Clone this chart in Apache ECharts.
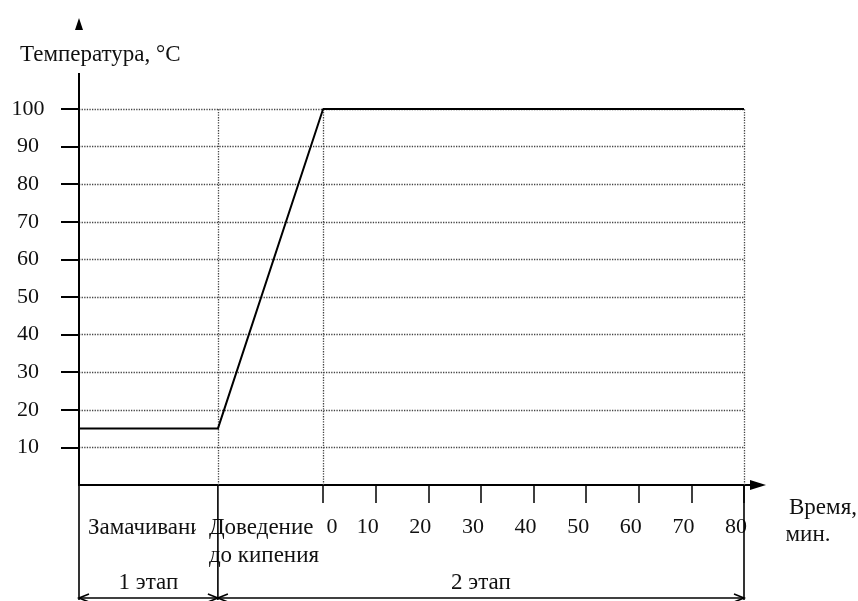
<!DOCTYPE html>
<html><head><meta charset="utf-8">
<script src="https://cdn.jsdelivr.net/npm/echarts@6/dist/echarts.min.js"></script>
<style>html,body{margin:0;padding:0;background:#fff}#c{width:858px;height:601px}</style>
</head><body><div id="c"></div>
<script>
// ---- data ----
const yTicks = [10, 20, 30, 40, 50, 60, 70, 80, 90, 100];
const xTicks = [0, 10, 20, 30, 40, 50, 60, 70, 80];
const timeX = [-46.4, -20, 0, 80];      // stage boundaries on the time axis
const tempY = [15, 15, 100, 100];       // temperature, °C
const phaseMarks = [-20, 0, 80];        // vertical dotted lines
const phaseLabels = ['Замачивание', 'Доведение', 'до кипения'];
const stageLabels = ['1 этап', '2 этап'];
const yTitle = 'Температура, °C';
const xTitle = ['Время,', 'мин.'];

const FONT = "'Liberation Serif', 'Times New Roman', serif";
const NUM = 22, TXT = 23;
const chart = echarts.init(document.getElementById('c'), null, {renderer: 'canvas'});

chart.setOption({
  animation: false,
  backgroundColor: '#fff',
  grid: {left: 79, right: 114, top: 109, bottom: 116, containLabel: false, outerBoundsMode: 'none'},
  xAxis: {
    type: 'value', min: timeX[0], max: xTicks[xTicks.length - 1],
    axisLine: {show: true, onZero: false, lineStyle: {color: '#000', width: 2}},
    axisTick: {show: true, customValues: xTicks, length: 18, lineStyle: {color: '#000', width: 1.5}},
    axisLabel: {
      show: true, customValues: xTicks, margin: 31, color: '#111',
      fontFamily: FONT, fontSize: NUM,
      formatter: v => v === 0 ? '{a|' + v + '}' : '{b|' + v + '}',
      rich: {
        a: {fontFamily: FONT, fontSize: NUM, color: '#111', padding: [0, 0, 0, 18]},
        b: {fontFamily: FONT, fontSize: NUM, color: '#111', padding: [0, 16, 0, 0]}
      }
    },
    splitLine: {show: false}
  },
  yAxis: {
    type: 'value', min: 0, max: 100, interval: 10,
    axisLine: {show: true, onZero: false, lineStyle: {color: '#000', width: 2}},
    axisTick: {show: true, customValues: yTicks, length: 18, lineStyle: {color: '#000', width: 2}},
    axisLabel: {show: true, customValues: yTicks, margin: 51, align: 'center',
      padding: [4, 0, 0, 0],
      color: '#111', fontFamily: FONT, fontSize: NUM},
    splitLine: {show: true, lineStyle: {color: '#444', type: 'dotted', width: 1.3}}
  },
  series: [{
    type: 'line',
    data: timeX.map((x, i) => [x, tempY[i]]),
    symbol: 'none',
    lineStyle: {color: '#000', width: 2},
    z: 5,
    markLine: {
      silent: true, symbol: 'none', label: {show: false},
      lineStyle: {color: '#444', type: 'dotted', width: 1.3},
      data: phaseMarks.map(v => ({xAxis: v}))
    }
  }]
});

// ---- decorations positioned via the axes ----
const P = (x, y) => chart.convertToPixel({gridIndex: 0}, [x, y]);
const [x0, y0] = P(timeX[0], 0);
const [xB] = P(phaseMarks[0], 0);
const [xE, yTop] = P(xTicks[xTicks.length - 1], 100);
const yBr = y0 + 113;
const black = {stroke: '#000', lineWidth: 1.6};
const g = [];
// y-axis extensions and arrow
g.push({type: 'line', shape: {x1: x0, y1: yTop - 36, x2: x0, y2: yTop}, style: {stroke: '#000', lineWidth: 2}});
g.push({type: 'line', shape: {x1: x0, y1: y0, x2: x0, y2: yBr + 2}, style: {stroke: '#000', lineWidth: 1.6}});
g.push({type: 'polygon', shape: {points: [[x0, 18], [x0 - 4, 30], [x0 + 4, 30]]}, style: {fill: '#000'}});
// x-axis extension and arrow
g.push({type: 'line', shape: {x1: xE, y1: y0, x2: xE + 8, y2: y0}, style: {stroke: '#000', lineWidth: 2}});
g.push({type: 'polygon', shape: {points: [[xE + 22, y0], [xE + 6, y0 - 5], [xE + 6, y0 + 5]]}, style: {fill: '#000'}});
// texts
const txt = (x, y, t, align, extra) => Object.assign({type: 'text', x: x, y: y, z: 10,
  style: Object.assign({text: t, fill: '#111', font: TXT + 'px ' + FONT, align: align || 'left', verticalAlign: 'middle'}, extra || {})});
g.push(txt(20, 55, yTitle, 'left'));
g.push(txt(x0 + 9, y0 + 43, phaseLabels[0]));
// the first label is cut off in the original (cell boundary)
g.push({type: 'rect', z: 11, shape: {x: xB - 22, y: y0 + 28, width: 20, height: 30}, style: {fill: '#fff'}});
g.push(txt(xB - 9, y0 + 43, phaseLabels[1], 'left', {}));
g[g.length - 1].z = 12;
g.push(txt(xB - 9, y0 + 71, phaseLabels[2]));
g.push(txt((x0 + xB) / 2, y0 + 98, stageLabels[0], 'center'));
g.push(txt((xB + xE) / 2, y0 + 98, stageLabels[1], 'center'));
g.push(txt(823, y0 + 23, xTitle[0], 'center'));
g.push(txt(808, y0 + 50, xTitle[1], 'center'));
// stage brackets
const line = (x1, y1, x2, y2) => ({type: 'line', z: 13, shape: {x1, y1, x2, y2}, style: black});
g.push(line(xB, y0, xB, yBr + 2));
g.push(line(xE, y0, xE, yBr + 2));
g.push(line(x0, yBr, xE, yBr));
const chev = (x, dir) => ({type: 'polyline', z: 13, shape: {points: [[x + dir * 10, yBr - 4], [x, yBr], [x + dir * 10, yBr + 4]]}, style: black});
g.push(chev(x0, 1), chev(xB, -1), chev(xB, 1), chev(xE, -1));
chart.setOption({graphic: {elements: g}});
</script>
</body></html>
